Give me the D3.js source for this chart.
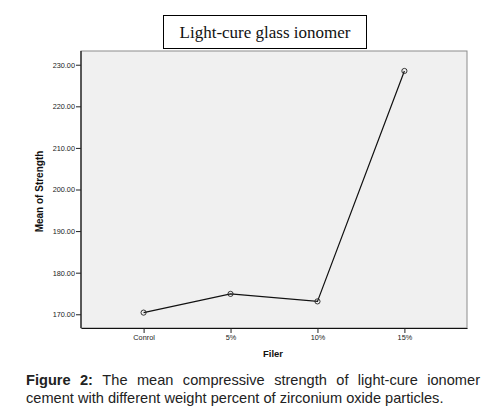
<!DOCTYPE html>
<html>
<head>
<meta charset="utf-8">
<script src="https://cdn.jsdelivr.net/npm/d3@7"></script>
<style>
  body { margin: 0; background: #fff; }
  svg { display: block; }
</style>
</head>
<body>
<div id="chart"></div>
<script>
// data
const categories = ["Conrol", "5%", "10%", "15%"];
const strength = [170.4, 174.9, 173.1, 228.5];
const yTicks = [170, 180, 190, 200, 210, 220, 230];

const width = 492, height = 410;
const plot = { left: 81, right: 467, top: 51, bottom: 328 };

const svg = d3.select("#chart")
  .append("svg")
  .attr("width", width)
  .attr("height", height);

const x = d3.scalePoint()
  .domain(categories)
  .range([plot.left, plot.right])
  .padding(0.72);

const y = d3.scaleLinear()
  .domain([166.7, 233.3])
  .range([plot.bottom, plot.top]);

// plot area
svg.append("rect")
  .attr("x", plot.left)
  .attr("y", plot.top)
  .attr("width", plot.right - plot.left)
  .attr("height", plot.bottom - plot.top)
  .attr("fill", "#f0f0f0")
  .attr("stroke", "#8c8c8c")
  .attr("stroke-width", 1);

// axes
const yAxis = svg.append("g")
  .attr("transform", `translate(${plot.left},0)`)
  .call(d3.axisLeft(y).tickValues(yTicks).tickFormat(d3.format(".2f")).tickSize(5).tickSizeOuter(0));

const xAxis = svg.append("g")
  .attr("transform", `translate(0,${plot.bottom})`)
  .call(d3.axisBottom(x).tickSize(5).tickSizeOuter(0));

[yAxis, xAxis].forEach(g => {
  g.select(".domain").attr("stroke", "#111").attr("stroke-width", 1.2);
  g.selectAll(".tick line").attr("stroke", "#222");
  g.selectAll(".tick text")
    .attr("fill", "#222")
    .style("font", "7.3px 'Liberation Sans', Arial, sans-serif");
});
yAxis.select(".domain").attr("d", `M0,${plot.top}V${plot.bottom}`);
yAxis.selectAll(".tick text").attr("x", -6).attr("dy", "0.33em");
xAxis.selectAll(".tick text").attr("y", 7);

// line + markers
const line = d3.line()
  .x((d, i) => x(categories[i]))
  .y(d => y(d));

svg.append("path")
  .datum(strength)
  .attr("fill", "none")
  .attr("stroke", "#111")
  .attr("stroke-width", 1.2)
  .attr("d", line);

svg.append("g")
  .selectAll("circle")
  .data(strength)
  .join("circle")
  .attr("cx", (d, i) => x(categories[i]))
  .attr("cy", d => y(d))
  .attr("r", 2.6)
  .attr("fill", "none")
  .attr("stroke", "#222")
  .attr("stroke-width", 0.9);

// axis titles
svg.append("text")
  .attr("transform", `translate(43,${(plot.top + plot.bottom) / 2 + 2}) rotate(-90)`)
  .attr("text-anchor", "middle")
  .style("font", "bold 10px 'Liberation Sans', Arial, sans-serif")
  .attr("fill", "#111")
  .text("Mean of Strength");

svg.append("text")
  .attr("x", 273)
  .attr("y", 357)
  .attr("text-anchor", "middle")
  .style("font", "bold 9.5px 'Liberation Sans', Arial, sans-serif")
  .attr("fill", "#111")
  .text("Filer");

// title box
svg.append("rect")
  .attr("x", 163.5)
  .attr("y", 15.5)
  .attr("width", 203)
  .attr("height", 33)
  .attr("fill", "#fff")
  .attr("stroke", "#000")
  .attr("stroke-width", 1);

svg.append("text")
  .attr("x", 265)
  .attr("y", 38)
  .attr("text-anchor", "middle")
  .style("font", "17px 'Liberation Serif', 'Times New Roman', serif")
  .attr("fill", "#111")
  .text("Light-cure glass ionomer");

// caption, first line justified
const capFont = "14.6px 'Liberation Sans', Arial, sans-serif";
const capLeft = 26, capRight = 480;
const line1 = [
  { t: "Figure", b: true }, { t: "2:", b: true }, { t: "The" }, { t: "mean" },
  { t: "compressive" }, { t: "strength" }, { t: "of" }, { t: "light-cure" }, { t: "ionomer" }
];

const cap1 = svg.append("g");
const words = cap1.selectAll("text")
  .data(line1)
  .join("text")
  .attr("y", 385)
  .style("font", d => (d.b ? "bold " : "") + capFont)
  .attr("fill", "#222")
  .text(d => d.t);

const widths = [];
words.each(function () { widths.push(this.getComputedTextLength()); });
const gap = (capRight - capLeft - d3.sum(widths)) / (widths.length - 1);
let cx = capLeft;
words.attr("x", (d, i) => {
  const pos = cx;
  cx += widths[i] + gap;
  return pos;
});

svg.append("text")
  .attr("x", capLeft)
  .attr("y", 403)
  .style("font", capFont)
  .attr("fill", "#222")
  .text("cement with different weight percent of zirconium oxide particles.");
</script>
</body>
</html>
